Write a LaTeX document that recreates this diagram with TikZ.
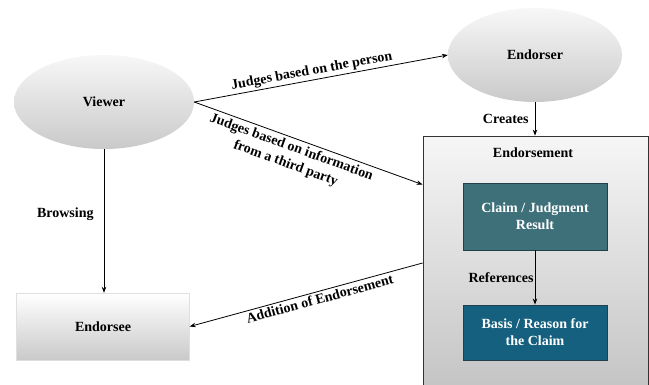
\documentclass[tikz,border=0pt]{standalone}
\usepackage{fontspec}
\setmainfont{Liberation Serif}
\usetikzlibrary{shapes.geometric,arrows.meta,calc}

\definecolor{claimfill}{HTML}{3E707A}
\definecolor{basisfill}{HTML}{16607F}
\definecolor{boxline}{HTML}{22404C}

\begin{document}
\begin{tikzpicture}[x=1pt,y=-1pt,
  font=\bfseries\fontsize{14}{17}\selectfont,
  oval/.style={ellipse, inner sep=0pt, top color=gray!6, bottom color=gray!42, draw=none},
  greybox/.style={rectangle, inner sep=0pt, top color=white, bottom color=gray!42, draw=gray!25, line width=0.4pt},
  outerbox/.style={rectangle, inner sep=0pt, draw=black!80, line width=0.8pt, top color=gray!7, bottom color=gray!48},
  innerbox/.style={rectangle, inner sep=0pt, draw=boxline, line width=0.9pt, text=white, align=center,
    minimum width=144pt},
  conn/.style={-{Stealth[length=6pt,width=4.5pt]}, line width=0.8pt, black},
  rconn/.style={{Stealth[length=6pt,width=4.5pt]}-, line width=0.8pt, black},
  lbl/.style={inner sep=2pt, align=center}
]
\clip (0,0) rectangle (649,384);
\fill[white] (0,0) rectangle (649,384);

% actors
\node[oval, minimum width=180pt, minimum height=94pt] (viewer) at (104,102) {Viewer};
\node[oval, minimum width=174pt, minimum height=94pt] (endorser) at (535,55) {Endorser};
\node[greybox, minimum width=173pt, minimum height=67pt] (endorsee) at (103,326.5) {Endorsee};

% endorsement container with its two parts
\node[outerbox, minimum width=225pt, minimum height=264pt] (endorsement) at (535.5,268) {};
\node (title) at (533,153) {Endorsement};
\node[innerbox, fill=claimfill, minimum height=67pt] (claim) at (535,216.5) {Claim / Judgment\\Result};
\node[innerbox, fill=basisfill, minimum height=55pt] (basis) at (535,332.5) {Basis / Reason for\\the Claim};

% connectors
\draw[conn] (viewer.east) -- (endorser.west)
  node[lbl, pos=0.47, above, sloped] {Judges based on the person};
\draw[conn] (viewer.east) -- ($(endorsement.north west)+(0,49)$)
  node[lbl, pos=0.44, below, sloped, yshift=-1pt] {Judges based on information\\from a third party};
\draw[conn] (viewer.south) -- (viewer.south |- endorsee.north)
  node[lbl, pos=0.45, left=8pt] {Browsing};
\draw[conn] (endorser.south) -- (endorser.south |- endorsement.north)
  node[lbl, midway, left=4pt] {Creates};
\draw[conn] (claim.south) -- (basis.north)
  node[midway, left, inner sep=1pt] {References};
\draw[rconn] (endorsee.east) -- ($(endorsement.west)+(0,-5)$)
  node[lbl, pos=0.55, below, sloped] {Addition of Endorsement};
\end{tikzpicture}
\end{document}
